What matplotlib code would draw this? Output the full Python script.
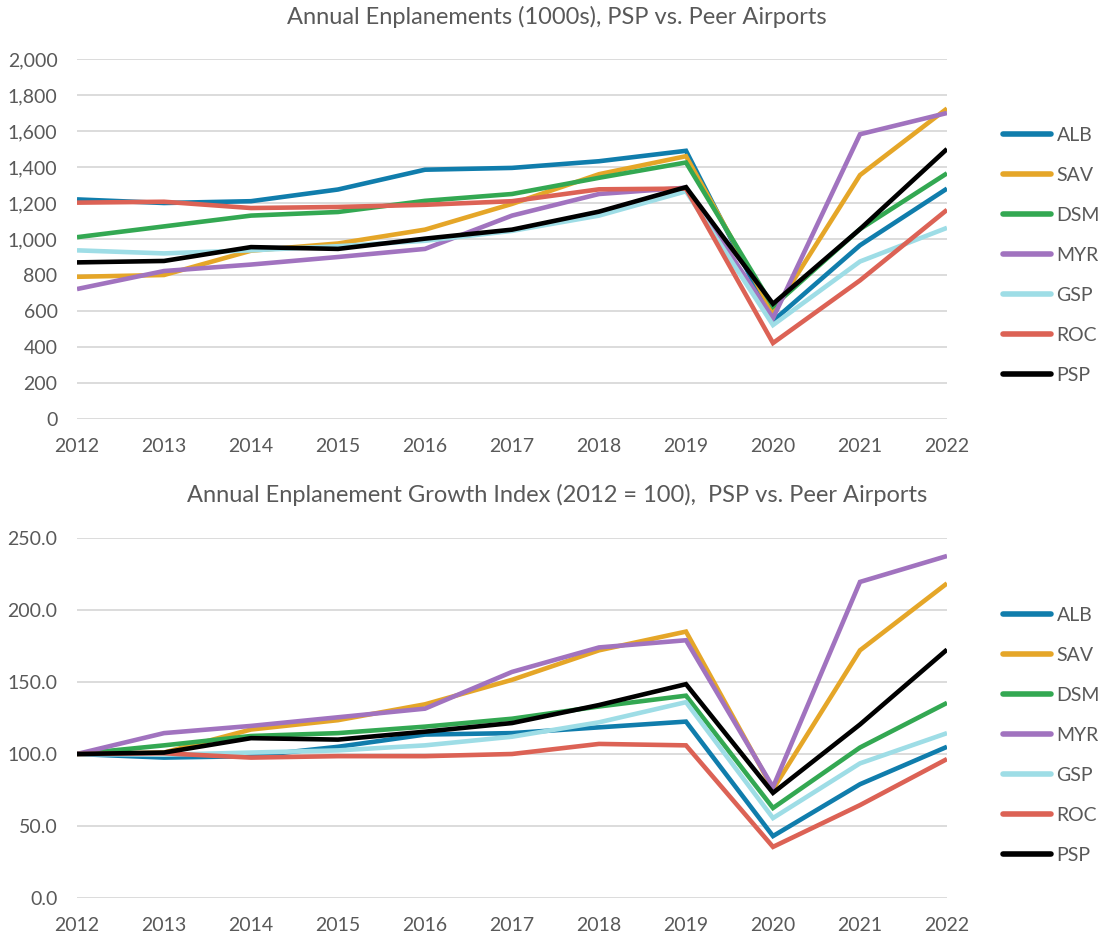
import numpy as np
import matplotlib
matplotlib.use("Agg")
import matplotlib.pyplot as plt

plt.rcParams['font.family'] = ['Lato', 'DejaVu Sans']

# data
years = [2012, 2013, 2014, 2015, 2016, 2017, 2018, 2019, 2020, 2021, 2022]
airports = ['ALB', 'SAV', 'DSM', 'MYR', 'GSP', 'ROC', 'PSP']
colors = ['#107DAC', '#E5A628', '#33A852', '#A173BF', '#9EDDE6', '#DC6255', '#000000']

# enplanements (1000s)
alb = [1220, 1200, 1210, 1275, 1385, 1395, 1432, 1490, 545, 965, 1280]
sav = [790, 800, 935, 975, 1052, 1195, 1360, 1460, 590, 1355, 1725]
dsm = [1010, 1070, 1130, 1150, 1212, 1250, 1340, 1425, 625, 1055, 1365]
myr = [722, 822, 858, 900, 945, 1130, 1250, 1285, 560, 1582, 1700]
gsp = [937, 920, 937, 960, 990, 1045, 1130, 1265, 522, 875, 1062]
roc = [1202, 1207, 1172, 1178, 1190, 1210, 1276, 1280, 422, 770, 1162]
psp = [870, 878, 955, 945, 1002, 1052, 1152, 1288, 640, 1055, 1500]

# growth index (2012 = 100)
alb_idx = [100, 97.5, 98.5, 105, 113.5, 114.5, 118.5, 122.5, 43, 79, 105]
sav_idx = [100, 101, 117, 123.5, 134.5, 151.5, 172, 185, 75.5, 172, 218.5]
dsm_idx = [100, 106, 112.5, 114.5, 119, 124.5, 133, 140.5, 62.5, 104.5, 135.5]
myr_idx = [100, 114.5, 119.5, 125.5, 131.5, 157, 174, 179, 77, 219.5, 237.5]
gsp_idx = [100, 99.5, 101, 102.5, 106, 112, 122, 136, 55.5, 93.5, 114.5]
roc_idx = [100, 100.5, 97.5, 98.5, 98.5, 100, 107, 106, 35.5, 64.5, 96.5]
psp_idx = [100, 101, 111, 110, 115.5, 121.5, 134, 148.5, 73, 120.5, 172.5]

top_series = [alb, sav, dsm, myr, gsp, roc, psp]
bot_series = [alb_idx, sav_idx, dsm_idx, myr_idx, gsp_idx, roc_idx, psp_idx]

W, H = 1098, 936
fig = plt.figure(figsize=(W / 100, H / 100), dpi=100)

gray = '#595959'
grid = '#D9D9D9'

def setup(ax, series, ymax, ystep, fmt, title, title_y, legend_y):
    for vals, c, name in zip(series, colors, airports):
        ax.plot(years, vals, color=c, lw=3.3, label=name, solid_capstyle='butt',
                solid_joinstyle='miter')
    ax.set_xlim(2012, 2022)
    ax.set_ylim(0, ymax)
    ax.set_xticks(years)
    ax.set_yticks(np.arange(0, ymax + ystep / 2, ystep))
    ax.yaxis.set_major_formatter(matplotlib.ticker.FuncFormatter(fmt))
    ax.grid(axis='y', color=grid, lw=1.3)
    ax.set_axisbelow(True)
    for s in ax.spines.values():
        s.set_visible(False)
    ax.tick_params(length=0, labelsize=14, labelcolor=gray)
    ax.tick_params(axis='x', pad=14)
    ax.tick_params(axis='y', pad=14)
    fig.text(557 / W, 1 - title_y / H, title, fontsize=17, color=gray,
             ha='center', va='center')
    leg = ax.legend(loc='upper left', bbox_to_anchor=(1003 / W, 1 - legend_y / H),
                    bbox_transform=fig.transFigure, frameon=False,
                    borderpad=0, borderaxespad=0,
                    fontsize=14, handlelength=2.45, labelspacing=1.18,
                    handletextpad=0.3)
    for t in leg.get_texts():
        t.set_color(gray)
    for l in leg.get_lines():
        l.set_linewidth(4)
        l.set_solid_capstyle('round')

# top: x 77..947, y 59..419
ax1 = fig.add_axes([77 / W, 1 - 419 / H, 870 / W, 360 / H])
setup(ax1, top_series, 2000, 200, lambda v, p: f'{int(v):,}',
      'Annual Enplanements (1000s), PSP vs. Peer Airports', 17, 127)

# bottom: y 538..898
ax2 = fig.add_axes([77 / W, 1 - 898 / H, 870 / W, 360 / H])
setup(ax2, bot_series, 250, 50, lambda v, p: f'{v:.1f}',
      'Annual Enplanement Growth Index (2012 = 100),  PSP vs. Peer Airports', 495, 607)

fig.savefig('out.png', dpi=100)
